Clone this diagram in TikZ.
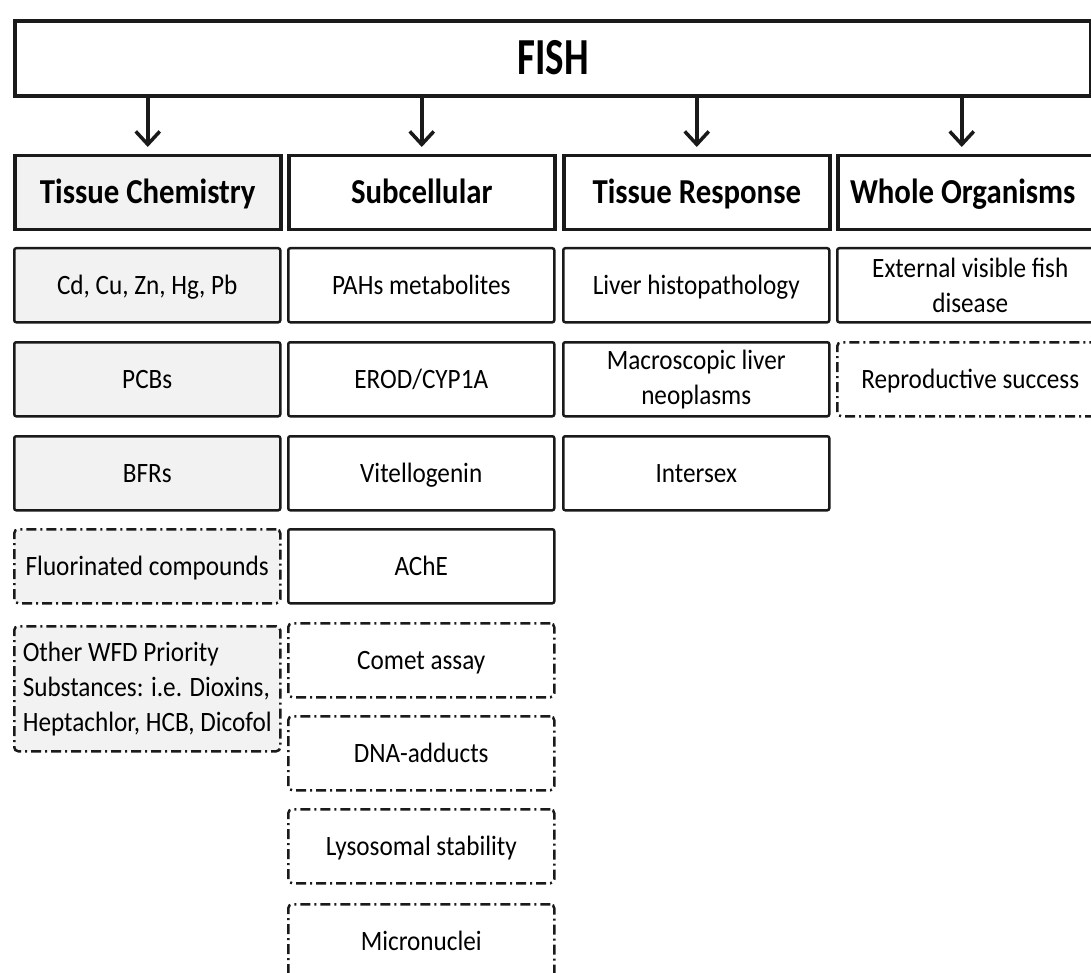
\documentclass[tikz,border=0pt]{standalone}
\usepackage{fontspec}
\setmainfont{Carlito}
\newfontfamily\bodyf{Carlito}[FakeStretch=0.9]
\newfontfamily\headf{Carlito}[FakeStretch=0.88]
\newfontfamily\fishf{Carlito}[FakeStretch=0.75]
\usetikzlibrary{arrows.meta}
\definecolor{tcgray}{HTML}{F2F2F2}
\definecolor{ink}{HTML}{1A1A1A}
\begin{document}
\begin{tikzpicture}[x=1pt,y=-1pt,
  cell/.style={draw=ink, line width=2.5pt, rounded corners=2pt, anchor=north west,
    minimum width=266pt, minimum height=74pt, inner sep=0pt, align=center,
    font=\bodyf\fontsize{28}{35}\selectfont},
  one/.style={text height=25pt, text depth=7pt},
  optcell/.style={cell, dash pattern=on 10pt off 4pt on 2pt off 4pt, rounded corners=4pt},
  tc/.style={fill=tcgray},
  head/.style={draw=ink, line width=3.5pt, anchor=north west, minimum width=266pt,
    minimum height=74pt, inner sep=0pt, text height=30pt, text depth=8pt,
    font=\headf\bfseries\fontsize{35}{40}\selectfont},
  arr/.style={draw=ink, line width=3.5pt, -{Straight Barb[length=13pt,width=24pt,line width=3.5pt]}}
]
\useasboundingbox (0,0) rectangle (1091,973);
\fill[white] (0,0) rectangle (1091,973);
\node[draw=ink, line width=4pt, anchor=north west, minimum width=1076pt, minimum height=75pt,
  inner sep=0pt, text height=40pt, text depth=8pt,
  font=\fishf\bfseries\fontsize{52}{58}\selectfont] (fish) at (13,19) {FISH};

\node[head,tc] (h1) at (13,154) {Tissue Chemistry};
\node[head] (h2) at (287,154) {Subcellular};
\node[head] (h3) at (562,154) {Tissue Response};
\node[head] (h4) at (836,154) {Whole Organisms\hspace*{16pt}};

\coordinate (t1) at ([yshift=7pt]h1.north);
\coordinate (t2) at ([yshift=7pt]h2.north);
\coordinate (t3) at ([yshift=7pt]h3.north);
\coordinate (t4) at ([xshift=-9pt,yshift=7pt]h4.north);
\foreach \t in {t1,t2,t3,t4} \draw[arr] (fish.south -| \t) -- (\t);

% Tissue chemistry
\node[cell,one,tc] (c1) at (13,247) {Cd, Cu, Zn, Hg, Pb};
\node[cell,one,tc] (c2) at (13,341) {PCBs};
\node[cell,one,tc] (c3) at (13,435) {BFRs};
\node[optcell,one,tc] (c4) at (13,528) {Fluorinated compounds};
\node[optcell,tc, minimum height=125pt, align=left] (c5) at (13,625)
  {Other WFD Priority\\Substances: i.e. Dioxins,\\Heptachlor, HCB, Dicofol};

% Subcellular
\node[cell,one] (s1) at (287,247) {PAHs metabolites};
\node[cell,one] (s2) at (287,341) {EROD/CYP1A};
\node[cell,one] (s3) at (287,435) {Vitellogenin};
\node[cell,one] (s4) at (287,528) {AChE};
\node[optcell,one] (s5) at (287,622) {Comet assay};
\node[optcell,one] (s6) at (287,715) {DNA-adducts};
\node[optcell,one] (s7) at (287,808) {Lysosomal stability};
\node[optcell,one] (s8) at (287,903) {Micronuclei};

% Tissue response
\node[cell,one] (r1) at (562,247) {Liver histopathology};
\node[cell] (r2) at (562,341) {Macroscopic liver\\neoplasms};
\node[cell,one] (r3) at (562,435) {Intersex};

% Whole organisms
\node[cell] (w1) at (836,247) {External visible fish\\disease};
\node[optcell,one] (w2) at (836,341) {Reproductive success};
\end{tikzpicture}
\end{document}
